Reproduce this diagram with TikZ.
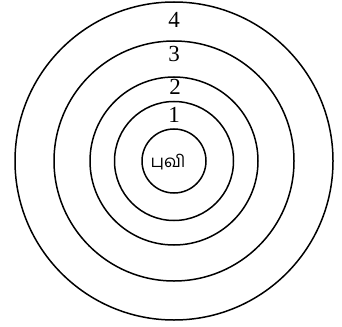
\documentclass[tikz,border=0pt]{standalone}
\usepackage{fontspec}
\setmainfont{Liberation Serif}
\newfontfamily\tamilfont[Script=Tamil]{Hind Madurai}
\begin{document}
\begin{tikzpicture}[x=1pt,y=-1pt,
  ring/.style={draw=black,line width=1.5pt},
  num/.style={font=\fontsize{23}{23}\selectfont,inner sep=0pt}]
\useasboundingbox (0,0) rectangle (342,326);
\coordinate (c) at (174,161);
\draw[ring] (c) circle[radius=32];
\draw[ring] (c) circle[radius=59.5];
\draw[ring] (c) circle[radius=84];
\draw[ring] (c) circle[radius=120];
\draw[ring] (c) circle[radius=159];
\node[font=\tamilfont\fontsize{17}{17}\selectfont,inner sep=0pt] (earth) at (168,162) {புவி};
\node[num] (l1) at (174,115) {1};
\node[num] (l2) at (175,87) {2};
\node[num] (l3) at (174,54) {3};
\node[num] (l4) at (174,20) {4};
\end{tikzpicture}
\end{document}
